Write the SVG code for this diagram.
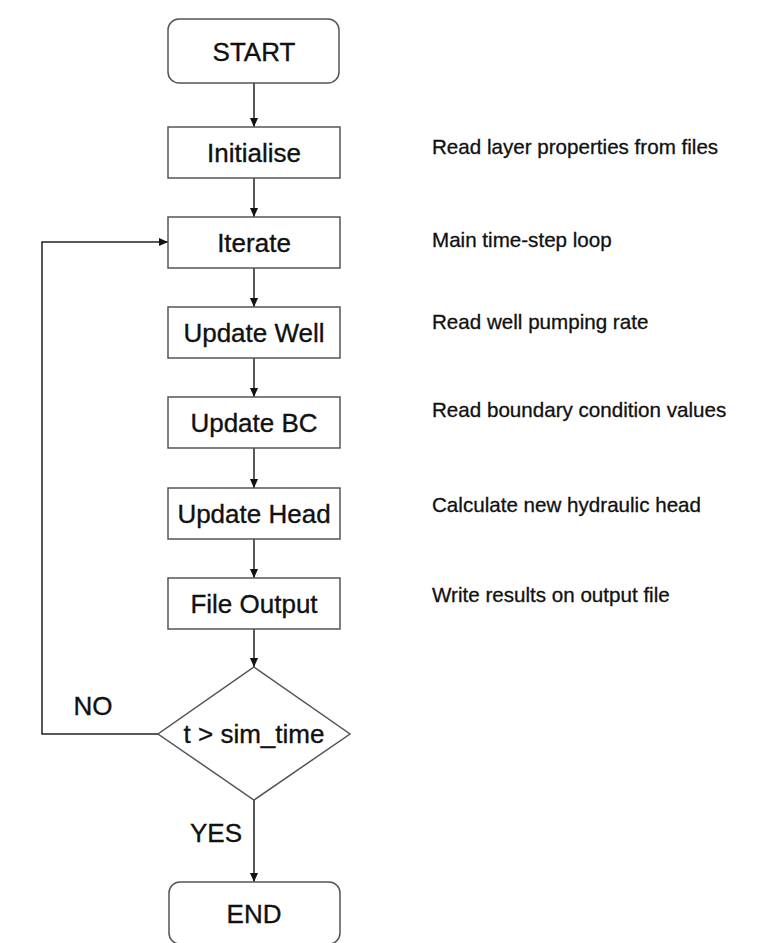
<svg xmlns="http://www.w3.org/2000/svg" width="778" height="943" viewBox="0 0 778 943">
<defs>
<marker id="ah" markerWidth="10" markerHeight="10" refX="9" refY="5" orient="auto" markerUnits="userSpaceOnUse">
<path d="M0,1 L9,5 L0,9 Z" fill="#111"/>
</marker>
<style>
.box{fill:#fff;stroke:#555;stroke-width:1.5}
.lbl{font-family:"Liberation Sans",Arial,sans-serif;font-size:26px;fill:#111;stroke:#111;stroke-width:0.35;text-anchor:middle}
.note{font-family:"Liberation Sans",Arial,sans-serif;font-size:20.6px;fill:#111;stroke:#111;stroke-width:0.3}
.con{fill:none;stroke:#222;stroke-width:1.5;marker-end:url(#ah)}
</style>
</defs>
<rect width="778" height="943" fill="#fff"/>
<g id="connectors">
<line class="con" x1="254" y1="83" x2="254" y2="127"/>
<line class="con" x1="254" y1="178" x2="254" y2="217"/>
<line class="con" x1="254" y1="268" x2="254" y2="307"/>
<line class="con" x1="254" y1="358" x2="254" y2="397"/>
<line class="con" x1="254" y1="448" x2="254" y2="488"/>
<line class="con" x1="254" y1="539" x2="254" y2="578"/>
<line class="con" x1="254" y1="629" x2="254" y2="667"/>
<line class="con" x1="254" y1="800" x2="254" y2="882"/>
<polyline class="con" points="158,734 42,734 42,242 168,242"/>
</g>
<g id="start"><rect class="box" x="168" y="19" width="171" height="64" rx="11"/><text class="lbl" x="254" y="61">START</text></g>
<g id="initialise"><rect class="box" x="168" y="127" width="172" height="51"/><text class="lbl" x="254" y="162">Initialise</text></g>
<g id="iterate"><rect class="box" x="168" y="217" width="172" height="51"/><text class="lbl" x="254" y="252">Iterate</text></g>
<g id="update-well"><rect class="box" x="168" y="307" width="172" height="51"/><text class="lbl" x="254" y="342">Update Well</text></g>
<g id="update-bc"><rect class="box" x="168" y="397" width="172" height="51"/><text class="lbl" x="254" y="432">Update BC</text></g>
<g id="update-head"><rect class="box" x="168" y="488" width="172" height="51"/><text class="lbl" x="254" y="523">Update Head</text></g>
<g id="file-output"><rect class="box" x="168" y="578" width="172" height="51"/><text class="lbl" x="254" y="613">File Output</text></g>
<g id="decision"><polygon class="box" points="254,667 350,734 254,800 158,734"/><text class="lbl" x="254" y="743">t &gt; sim_time</text></g>
<g id="end"><rect class="box" x="169" y="882" width="171" height="62" rx="11"/><text class="lbl" x="254" y="923">END</text></g>
<g id="labels">
<text class="lbl" x="93" y="715">NO</text>
<text class="lbl" x="216" y="842">YES</text>
</g>
<g id="notes">
<text class="note" x="432" y="154">Read layer properties from files</text>
<text class="note" x="432" y="247">Main time-step loop</text>
<text class="note" x="432" y="329">Read well pumping rate</text>
<text class="note" x="432" y="417">Read boundary condition values</text>
<text class="note" x="432" y="512">Calculate new hydraulic head</text>
<text class="note" x="432" y="602">Write results on output file</text>
</g>
</svg>
